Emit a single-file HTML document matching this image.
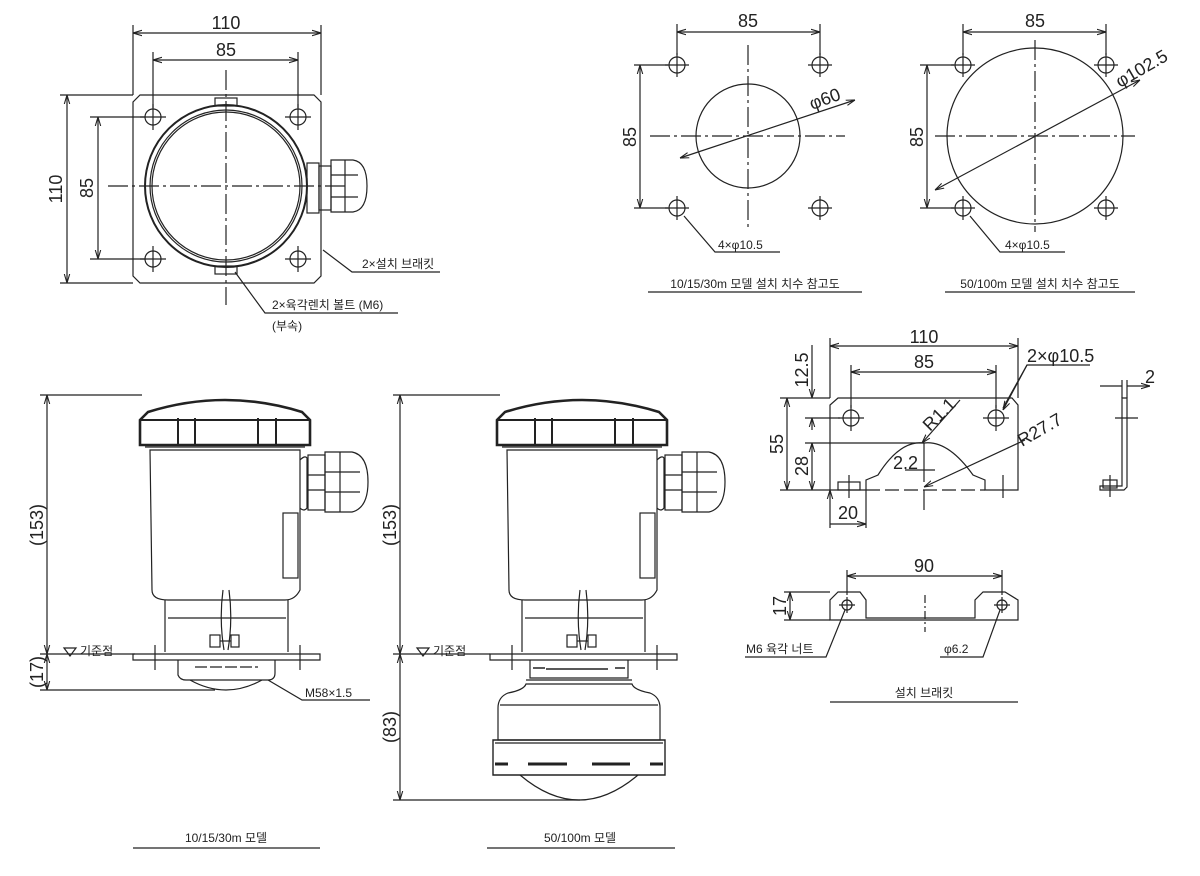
<!DOCTYPE html>
<html><head><meta charset="utf-8"><style>
html,body{margin:0;padding:0;background:#fff;}
svg{display:block;}
text{font-family:"Liberation Sans","Noto Sans CJK KR",sans-serif;fill:#222;}
.t{font-size:18px;}
.s{font-size:12px;}
</style></head><body>
<svg width="1200" height="876" viewBox="0 0 1200 876" xmlns="http://www.w3.org/2000/svg">
<defs>
<marker id="a" viewBox="0 0 10 10" refX="10" refY="5" markerWidth="9" markerHeight="9" orient="auto-start-reverse" markerUnits="userSpaceOnUse"><path d="M0,2 L10,5 L0,8" fill="none" stroke="#222" stroke-width="1.2"/></marker>
</defs>
<g stroke="#222" stroke-width="1.2" fill="none">
<!-- ===== Top-left plan ===== -->
<path d="M140,95 L314,95 L321,102 L321,276 L314,283 L140,283 L133,276 L133,102 Z"/>
<circle cx="226" cy="186" r="81" stroke-width="2"/>
<circle cx="226" cy="186" r="76"/>
<circle cx="226" cy="186" r="74"/>
<g>
<circle cx="153" cy="117" r="8"/><circle cx="298" cy="117" r="8"/><circle cx="153" cy="259" r="8"/><circle cx="298" cy="259" r="8"/>
<path d="M140,117h26M153,104v26M285,117h26M298,104v26M140,259h26M153,246v26M285,259h26M298,246v26"/>
</g>
<rect x="215" y="98" width="22" height="8"/><rect x="215" y="266" width="22" height="8"/>
<path d="M108,186 H345" stroke-dasharray="20,4,3,4"/>
<path d="M226,70 V305" stroke-dasharray="20,4,3,4"/>
<rect x="307" y="163" width="12" height="50"/><rect x="319" y="166" width="12" height="44"/>
<path d="M331,160 H353 Q367,162 367,186 Q367,210 353,212 H331 Z"/>
<path d="M345,160 V212 M331,175 H358 M331,197 H358"/>
<path d="M133,95 V25 M321,95 V25 M153,108 V52 M298,108 V52 M60,95 H133 M60,283 H133 M90,117 H145 M90,259 H145"/>
<path d="M133,33 H321" marker-start="url(#a)" marker-end="url(#a)"/>
<path d="M153,60 H298" marker-start="url(#a)" marker-end="url(#a)"/>
<path d="M67,95 V283" marker-start="url(#a)" marker-end="url(#a)"/>
<path d="M98,117 V259" marker-start="url(#a)" marker-end="url(#a)"/>
<path d="M323,250 L352,272 H440"/>
<path d="M235,272 L265,313 H398"/>
<!-- ===== Top middle ===== -->
<circle cx="748" cy="136" r="52"/>
<g>
<circle cx="677" cy="65" r="8"/><circle cx="820" cy="65" r="8"/><circle cx="677" cy="208" r="8"/><circle cx="820" cy="208" r="8"/>
<path d="M665,65h24M677,53v24M808,65h24M820,53v24M665,208h24M677,196v24M808,208h24M820,196v24"/>
</g>
<path d="M650,136 H845" stroke-dasharray="20,4,3,4"/><path d="M748,45 V230" stroke-dasharray="20,4,3,4"/>
<path d="M677,55 V24 M820,55 V24 M634,65 H668 M634,208 H668"/>
<path d="M677,32 H820" marker-start="url(#a)" marker-end="url(#a)"/>
<path d="M640,65 V208" marker-start="url(#a)" marker-end="url(#a)"/>
<path d="M680,158 L855,100" marker-start="url(#a)" marker-end="url(#a)"/>
<path d="M684,216 L715,252 H780"/>
<path d="M648,292 H862"/>
<!-- ===== Top right ===== -->
<circle cx="1035" cy="136" r="88"/>
<g>
<circle cx="963" cy="65" r="8"/><circle cx="1106" cy="65" r="8"/><circle cx="963" cy="208" r="8"/><circle cx="1106" cy="208" r="8"/>
<path d="M951,65h24M963,53v24M1094,65h24M1106,53v24M951,208h24M963,196v24M1094,208h24M1106,196v24"/>
</g>
<path d="M935,136 H1135" stroke-dasharray="20,4,3,4"/><path d="M1035,40 V232" stroke-dasharray="20,4,3,4"/>
<path d="M963,55 V24 M1106,55 V24 M920,65 H954 M920,208 H954"/>
<path d="M963,32 H1106" marker-start="url(#a)" marker-end="url(#a)"/>
<path d="M927,65 V208" marker-start="url(#a)" marker-end="url(#a)"/>
<path d="M935,190 L1140,80" marker-start="url(#a)" marker-end="url(#a)"/>
<path d="M970,216 L1000,252 H1065"/>
<path d="M945,292 H1135"/>
<!-- ===== Device (common upper) ===== -->
<g id="dev">
<path d="M148,412 Q225,388 302,412 L310,420 V445 H140 V420 Z" stroke-width="2.6"/>
<path d="M140,420 H310 M178,418 V445 M195,418 V445 M258,418 V445 M276,418 V445" stroke-width="2"/>
<path d="M150,450 H300 V590 Q295,600 285,600 H168 Q152,600 152,590 Z"/>
<path d="M145,447 H305"/>
<rect x="283" y="513" width="15" height="65"/>
<path d="M165,600 V652 M288,600 V652 M168,618 H286"/>
<path d="M300,460 Q305,455 307,458 V508 Q304,512 300,508"/>
<rect x="308" y="455" width="17" height="55"/><path d="M308,475 H325 M308,490 H325"/>
<path d="M325,452 H352 Q368,455 368,482 Q368,508 352,512 H325 Z M340,452 V512 M325,472 H360 M325,492 H360"/>
<path d="M223,590 Q219,620 224,650 M229,590 Q233,620 228,650"/>
<rect x="210" y="635" width="10" height="12"/><rect x="231" y="635" width="8" height="12"/><path d="M220,641 H231"/>
<path d="M133,654 H320 V660 H133 Z"/>
<path d="M155,645 V670 M300,645 V670"/>
</g>
<!-- device 1 bottom -->
<path d="M178,660 V675 Q180,680 186,680 H268 Q275,680 275,673 V660"/>
<path d="M195,667 H258" stroke-dasharray="12,3"/>
<path d="M190,680 Q226,700 262,680"/>
<path d="M268,680 L302,700 H370"/>
<path d="M40,395 H142 M40,654 H135 M40,690 H215"/>
<path d="M47,395 V654" marker-start="url(#a)" marker-end="url(#a)"/>
<path d="M47,654 V690" marker-start="url(#a)" marker-end="url(#a)"/>
<path d="M64,648 L70,656 L76,648 Z"/>
<path d="M133,848 H320"/>
<!-- ===== Device 2 ===== -->
<use href="#dev" x="357"/>
<path d="M530,660 V678 H628 V660"/>
<path d="M533,668 H545 M546,669 H608 M615,668 H625" stroke-width="1.6"/>
<path d="M526,680 H632"/>
<path d="M526,684 H632 Q634,690 650,693 Q660,697 660,708 V740 H498 V708 Q498,697 508,693 Q524,690 526,684 Z"/>
<path d="M500,705 H658"/>
<path d="M493,740 H665 V775 H493 Z" stroke-width="1.4"/>
<path d="M495,743 H663"/>
<path d="M495,764 H508 M528,764 H567 M592,764 H630 M650,764 H663" stroke-width="3"/>
<path d="M520,775 Q579,825 638,775"/>
<path d="M393,395 H500 M393,654 H490 M393,800 H580"/>
<path d="M400,395 V654" marker-start="url(#a)" marker-end="url(#a)"/>
<path d="M400,654 V800" marker-start="url(#a)" marker-end="url(#a)"/>
<path d="M417,648 L423,656 L429,648 Z"/>
<path d="M487,848 H675"/>
<!-- ===== Bracket top ===== -->
<path d="M838,398 H1012 L1018,405 V490 H985 V480 L973,475 Q948,440 924,443 Q900,440 878,475 L866,480 V490 H830 V405 Z"/>
<circle cx="851" cy="418" r="8"/><circle cx="996" cy="418" r="8"/>
<path d="M838,418h26M851,405v26M983,418h26M996,405v26"/>
<path d="M924,443 V482 M924,490 V510" />
<path d="M866,490 H985" stroke-dasharray="14,5"/>
<rect x="838" y="482" width="22" height="8"/><path d="M849,475 V498 M1003,475 V498"/>
<path d="M830,398 V338 M1018,398 V338 M851,408 V365 M996,408 V365"/>
<path d="M830,346 H1018" marker-start="url(#a)" marker-end="url(#a)"/>
<path d="M851,372 H996" marker-start="url(#a)" marker-end="url(#a)"/>
<path d="M780,398 H830 M780,490 H830 M805,418 H840 M805,443 H924"/>
<path d="M787,398 V490" marker-start="url(#a)" marker-end="url(#a)"/>
<path d="M812,443 V490" marker-start="url(#a)" marker-end="url(#a)"/>
<path d="M812,345 V398" marker-end="url(#a)"/>
<path d="M812,430 V418" marker-end="url(#a)"/>
<path d="M830,490 V528 M866,490 V528 M830,524 H866" marker-start="url(#a)" marker-end="url(#a)"/>
<path d="M1003,408 L1027,365 H1090" />
<path d="M1003,410 L1027,365" marker-start="url(#a)"/>
<path d="M924,487 L1025,440" marker-start="url(#a)"/>
<path d="M922,443 L960,400" marker-start="url(#a)"/>
<path d="M905,470 H935"/>
<path d="M1122,398 H1127 V487 L1124,490 H1100 V486 H1122 Z"/>
<rect x="1103" y="480" width="14" height="8"/><path d="M1110,475 V497 M1115,418 H1138"/>
<path d="M1100,386 H1122 M1127,386 H1150" marker-end="url(#a)"/>
<path d="M1122,380 V398 M1127,380 V398"/>
<path d="M830,620 V600 L838,592 H860 L866,600 V618 H975 V600 L983,592 H1005 L1018,600 V620 Z"/>
<circle cx="847" cy="605" r="5"/><circle cx="1002" cy="605" r="5"/>
<path d="M839,605h16M847,597v16M994,605h16M1002,597v16"/>
<path d="M925,595 V632" stroke-dasharray="8,3,2,3"/>
<path d="M847,595 V570 M1002,595 V570"/>
<path d="M847,576 H1002" marker-start="url(#a)" marker-end="url(#a)"/>
<path d="M784,592 H830 M784,620 H830"/>
<path d="M790,592 V620" marker-start="url(#a)" marker-end="url(#a)"/>
<path d="M845,610 L826,657 H745"/>
<path d="M1000,610 L983,657 H940"/>
<path d="M830,702 H1018"/>
</g>
<!-- text -->
<text class="t" x="226" y="29" text-anchor="middle">110</text>
<text class="t" x="226" y="56" text-anchor="middle">85</text>
<text class="t" transform="translate(62,189) rotate(-90)" text-anchor="middle">110</text>
<text class="t" transform="translate(93,188) rotate(-90)" text-anchor="middle">85</text>
<text class="s" x="362" y="268">2×설치 브래킷</text>
<text class="s" x="272" y="309">2×육각렌치 볼트 (M6)</text>
<text class="s" x="272" y="330">(부속)</text>
<text class="t" x="748" y="27" text-anchor="middle">85</text>
<text class="t" transform="translate(636,137) rotate(-90)" text-anchor="middle">85</text>
<text class="t" transform="translate(812,110) rotate(-20)">φ60</text>
<text class="s" x="718" y="249">4×φ10.5</text>
<text class="s" x="755" y="288" text-anchor="middle">10/15/30m 모델 설치 치수 참고도</text>
<text class="t" x="1035" y="27" text-anchor="middle">85</text>
<text class="t" transform="translate(923,137) rotate(-90)" text-anchor="middle">85</text>
<text class="t" transform="translate(1120,88) rotate(-30)">φ102.5</text>
<text class="s" x="1005" y="249">4×φ10.5</text>
<text class="s" x="1040" y="288" text-anchor="middle">50/100m 모델 설치 치수 참고도</text>
<text class="t" transform="translate(43,525) rotate(-90)" text-anchor="middle">(153)</text>
<text class="t" transform="translate(43,672) rotate(-90)" text-anchor="middle">(17)</text>
<text class="s" x="80" y="655">기준점</text>
<text class="s" x="305" y="697">M58×1.5</text>
<text class="s" x="226" y="842" text-anchor="middle">10/15/30m 모델</text>
<text class="t" transform="translate(396,525) rotate(-90)" text-anchor="middle">(153)</text>
<text class="t" transform="translate(396,727) rotate(-90)" text-anchor="middle">(83)</text>
<text class="s" x="433" y="655">기준점</text>
<text class="s" x="580" y="842" text-anchor="middle">50/100m 모델</text>
<text class="t" x="924" y="343" text-anchor="middle">110</text>
<text class="t" x="924" y="368" text-anchor="middle">85</text>
<text class="t" transform="translate(808,370) rotate(-90)" text-anchor="middle">12.5</text>
<text class="t" transform="translate(783,444) rotate(-90)" text-anchor="middle">55</text>
<text class="t" transform="translate(808,466) rotate(-90)" text-anchor="middle">28</text>
<text class="t" x="848" y="519" text-anchor="middle">20</text>
<text class="t" x="1027" y="362">2×φ10.5</text>
<text class="t" transform="translate(930,432) rotate(-45)">R1.1</text>
<text class="t" transform="translate(1022,447) rotate(-30)">R27.7</text>
<text class="t" x="893" y="469">2.2</text>
<text class="t" x="1145" y="383">2</text>
<text class="t" x="924" y="572" text-anchor="middle">90</text>
<text class="t" transform="translate(786,606) rotate(-90)" text-anchor="middle">17</text>
<text class="s" x="746" y="653">M6 육각 너트</text>
<text class="s" x="944" y="653">φ6.2</text>
<text class="s" x="924" y="697" text-anchor="middle">설치 브래킷</text>
</svg>
</body></html>
